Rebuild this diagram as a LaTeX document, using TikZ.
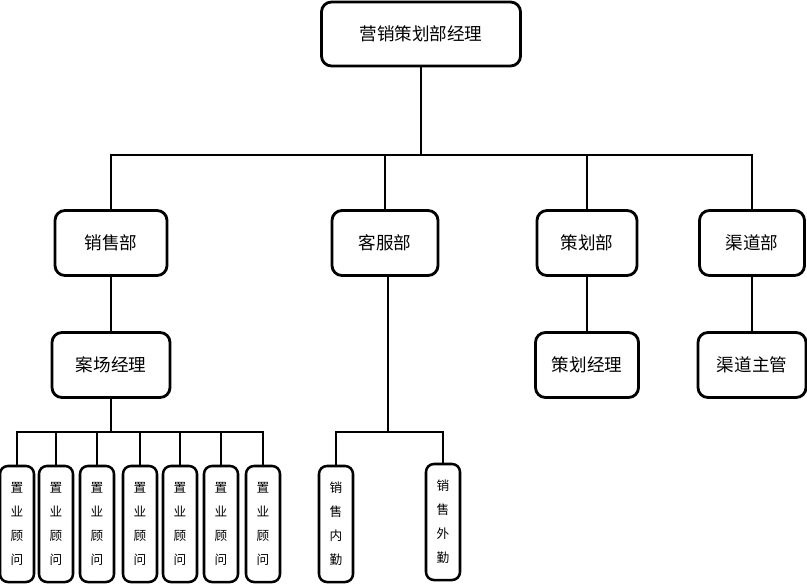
\documentclass[tikz,border=0pt]{standalone}
\usepackage{fontspec}
\setmainfont{Noto Sans CJK SC}
\begin{document}
\begin{tikzpicture}[x=0.025cm, y=-0.025cm,
        box/.style={draw, line width=2pt, rounded corners=0.25cm, align=center, minimum height=1.625cm, font=\fontsize{12.5}{15}\selectfont},
        tall/.style={draw, line width=1.8pt, rounded corners=0.2cm, align=center, minimum width=0.85cm, minimum height=2.9cm, inner sep=1pt, font=\fontsize{9}{17}\selectfont},
        line/.style={line width=1.4pt}]
        \useasboundingbox (0,0) rectangle (807,584);
        \node[box, minimum width=4.975cm, minimum height=1.6cm] at (421,34) (Top) {营销策划部经理};
        \node[box, minimum width=2.8cm] at (111,243) (Sales) {销售部};
        \node[box, minimum width=2.65cm] at (385,243) (Service) {客服部};
        \node[box, minimum width=2.5cm] at (587,243) (Plan) {策划部};
        \node[box, minimum width=2.625cm] at (752,243) (Channel) {渠道部};
        \node[box, minimum width=2.95cm] at (111,365) (SiteMgr) {案场经理};
        \node[box, minimum width=2.575cm] at (587,365) (PlanMgr) {策划经理};
        \node[box, minimum width=2.7cm] at (752,365) (ChanMgr) {渠道主管};
        \foreach \i/\x in {1/17, 2/56, 3/97, 4/140, 5/180, 6/221, 7/263}
            \node[tall] at (\x,524) (Adv\i) {置\\业\\顾\\问};
        \node[tall] at (336,524) (Inner) {销\\售\\内\\勤};
        \node[tall] at (443,522) (Outer) {销\\售\\外\\勤};
        \coordinate (BusA) at (421,155);
        \coordinate (BusB) at (111,432);
        \coordinate (BusC) at (388,432);
        \draw[line] (Top) -- (BusA);
        \draw[line] (Sales.north) |- (BusA) -| (Channel.north);
        \draw[line] (Service.north) -- (Service.north |- BusA);
        \draw[line] (Plan.north) -- (Plan.north |- BusA);
        \draw[line] (Sales) -- (SiteMgr);
        \draw[line] (Plan) -- (PlanMgr);
        \draw[line] (Channel) -- (ChanMgr);
        \draw[line] (SiteMgr) -- (BusB);
        \draw[line] (Adv1.north) |- (BusB) -| (Adv7.north);
        \foreach \i in {2,...,6}
            \draw[line] (Adv\i.north) -- (Adv\i.north |- BusB);
        \draw[line] (Service.south -| BusC) -- (BusC);
        \draw[line] (Inner.north) |- (BusC) -| (Outer.north);
    \end{tikzpicture}
\end{document}
